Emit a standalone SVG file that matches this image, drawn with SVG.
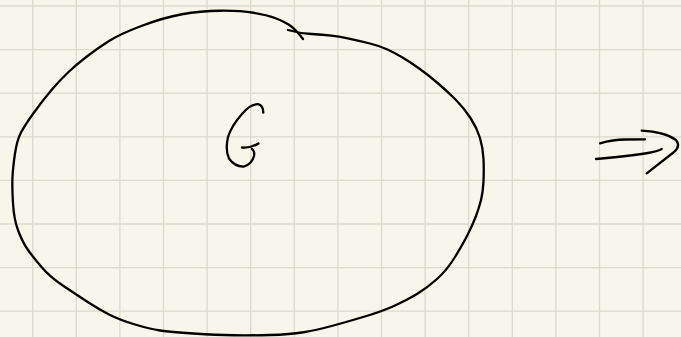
<svg xmlns="http://www.w3.org/2000/svg" width="681" height="337" viewBox="0 0 681 337">
<style>
.grid{stroke:#dcdacb;stroke-width:1.3;fill:none}
.ink{stroke:#000;stroke-width:2.3;fill:none;stroke-linecap:round;stroke-linejoin:round}
</style>
<rect width="681" height="337" fill="#f8f6ea"/>
<g id="grid" class="grid">
<path d="M32.7,0V337M76.3,0V337M119.9,0V337M163.5,0V337M207.1,0V337M250.7,0V337M294.3,0V337M337.9,0V337M381.5,0V337M425.1,0V337M468.7,0V337M512.3,0V337M555.9,0V337M599.5,0V337M643.1,0V337"/>
<path d="M0,6H681M0,49.6H681M0,93.2H681M0,136.8H681M0,180.4H681M0,224H681M0,267.6H681M0,311.2H681"/>
</g>
<g id="set-G">
<path class="ink" d="M288,30 Q300,33.5 311.5,34 Q323,34.5 331.5,35.6 Q340,36.7 350,38.85 Q360,41 370,43.5 Q380,46 387.5,49.5 Q395,53 402.5,57.5 Q410,62 418.5,68 Q427,74 437,82.5 Q447,91 455.5,99.5 Q464,108 470.5,118 Q477,128 480,138 Q483,148 483.5,159 Q484,170 483.5,181 Q483,192 481,200 Q479,208 476,216 Q473,224 468,234 Q463,244 455,257 Q447,270 437,279 Q427,288 417,294 Q407,300 395,305.5 Q383,311 366.5,316 Q350,321 333.5,325.5 Q317,330 303.5,332.25 Q290,334.5 270,335 Q250,335.5 233.5,335.25 Q217,335 193.5,333.5 Q170,332 160,330.5 Q150,329 135,324.5 Q120,320 110,315 Q100,310 88.5,302.5 Q77,295 63.5,286 Q50,277 41.5,267 Q33,257 28,250 Q23,243 18.5,231.5 Q14,220 13,203.5 Q12,187 12.5,177 Q13,167 15,153.5 Q17,140 21,132.5 Q25,125 34,112.5 Q43,100 51.5,90 Q60,80 68.5,72 Q77,64 87.5,56 Q98,48 109,41 Q120,34 142,25.75 Q164,17.5 182,14.25 Q200,11 220,10.75 Q240,10.5 253.5,12.75 Q267,15 275,18 Q283,21 289,24.75 Q295,28.5 303,39"/>
<path class="ink" d="M263.3,112.7 Q263,105 258,104.2 Q250,104 242,114 Q232,125 228,137 Q225,150 229,158.5 Q235,167 244,166.5 Q252,164 254,156 Q255,151 252,149"/>
<path class="ink" d="M242,147.5 Q250,148.5 258.5,143.5"/>
</g>
<g id="connectors">
<g id="implies">
<path class="ink" d="M600,143.3 Q613,139.5 625,139.5 L645,139.3"/>
<path class="ink" d="M596,159 Q630,156 648,153 Q657,151.5 661.7,149"/>
<path class="ink" d="M641.7,130.7 Q665,132 676,140 Q681,146 674,152 Q660,163 646.7,173.3"/>
</g>
</g>
</svg>
